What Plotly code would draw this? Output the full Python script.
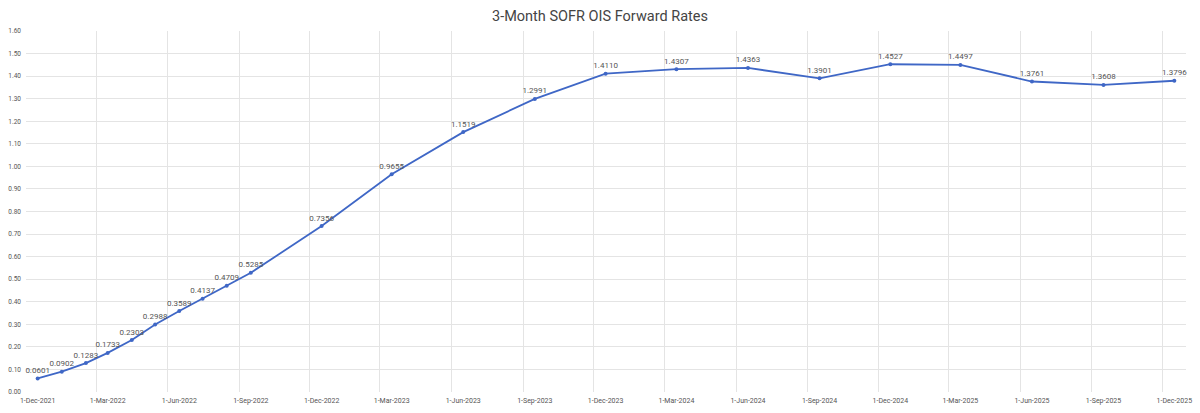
import pandas as pd
import plotly.graph_objects as go

dates = ["2021-12-01", "2022-01-01", "2022-02-01", "2022-03-01", "2022-04-01",
         "2022-05-01", "2022-06-01", "2022-07-01", "2022-08-01", "2022-09-01",
         "2022-12-01", "2023-03-01", "2023-06-01", "2023-09-01", "2023-12-01",
         "2024-03-01", "2024-06-01", "2024-09-01", "2024-12-01", "2025-03-01",
         "2025-06-01", "2025-09-01", "2025-12-01"]
rates = [0.0601, 0.0902, 0.1283, 0.1733, 0.2303, 0.2988, 0.3589, 0.4137, 0.4709,
         0.5285, 0.7356, 0.9655, 1.1519, 1.2991, 1.4110, 1.4307, 1.4363, 1.3901,
         1.4527, 1.4497, 1.3761, 1.3608, 1.3796]

tick_dates = ["2021-12-01", "2022-03-01", "2022-06-01", "2022-09-01", "2022-12-01",
              "2023-03-01", "2023-06-01", "2023-09-01", "2023-12-01", "2024-03-01",
              "2024-06-01", "2024-09-01", "2024-12-01", "2025-03-01", "2025-06-01",
              "2025-09-01", "2025-12-01"]
tick_labels = ["1-Dec-2021", "1-Mar-2022", "1-Jun-2022", "1-Sep-2022", "1-Dec-2022",
               "1-Mar-2023", "1-Jun-2023", "1-Sep-2023", "1-Dec-2023", "1-Mar-2024",
               "1-Jun-2024", "1-Sep-2024", "1-Dec-2024", "1-Mar-2025", "1-Jun-2025",
               "1-Sep-2025", "1-Dec-2025"]

grid_dates = [(pd.Timestamp(d) - pd.Timedelta(days=15)).strftime("%Y-%m-%d") for d in tick_dates]

FONT = "Roboto"
fig = go.Figure()
fig.add_trace(go.Scatter(
    x=dates, y=rates, mode="lines+markers+text",
    text=[f"{v:.4f}" for v in rates], textposition="top center",
    textfont=dict(family=FONT, size=8, color="#555555"),
    line=dict(color="#3f67c6", width=1.8),
    marker=dict(color="#3f67c6", size=4),
    cliponaxis=False, hoverinfo="x+y"))

fig.update_layout(
    width=1200, height=413,
    margin=dict(l=24, r=8, t=31, b=18),
    paper_bgcolor="white", plot_bgcolor="white",
    showlegend=False,
    title=dict(text="3-Month SOFR OIS Forward Rates", x=0.5, xanchor="center",
               y=0.962, yanchor="middle",
               font=dict(family=FONT, size=14.5, color="#444444")),
    xaxis=dict(type="date", range=["2021-11-16", "2025-12-16"],
               tickmode="array", tickvals=tick_dates, ticktext=tick_labels,
               ticklabeloverflow="allow", ticklabelstandoff=3,
               showgrid=False, zeroline=False, showline=False, ticks="",
               tickfont=dict(family=FONT, size=7, color="#555555"),
               minor=dict(tickmode="array", tickvals=grid_dates, showgrid=True,
                          gridcolor="#e4e4e4", gridwidth=1, ticks="")),
    yaxis=dict(range=[0, 1.6], dtick=0.1, tick0=0, tickformat=".2f",
               showgrid=True, gridcolor="#e4e4e4", gridwidth=1,
               zeroline=False, showline=False, ticks="",
               ticklabeloverflow="allow", ticklabelstandoff=4,
               tickfont=dict(family=FONT, size=6.5, color="#555555")),
)

fig.write_html("out.html")
